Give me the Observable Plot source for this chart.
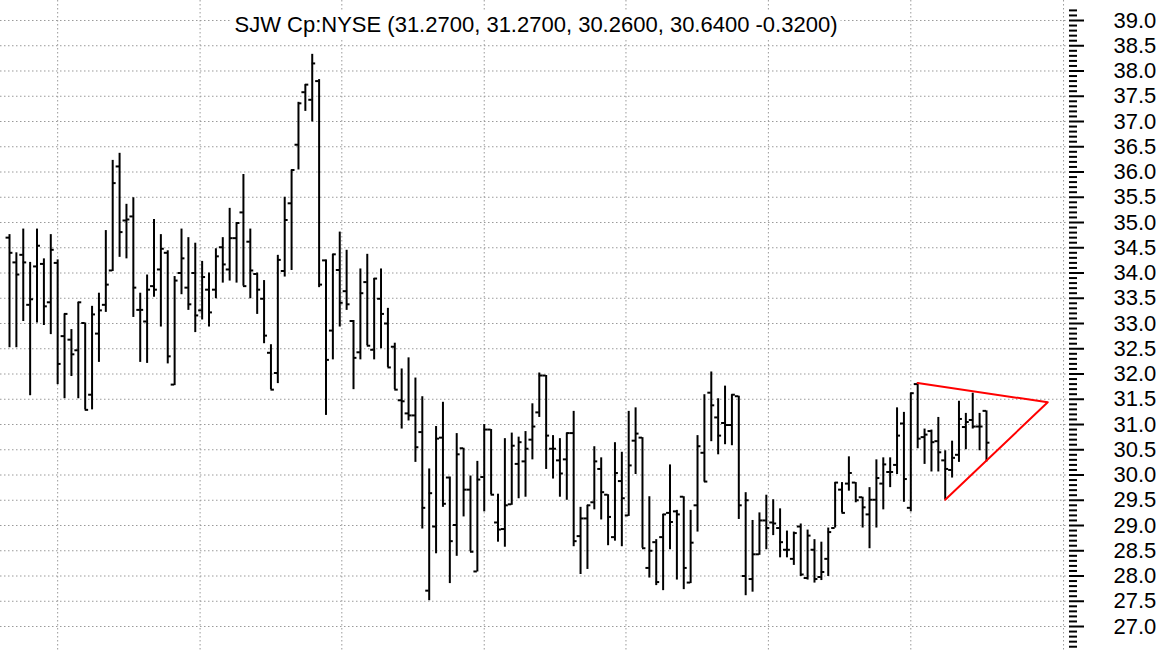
<!DOCTYPE html>
<html>
<head>
<meta charset="utf-8">
<script src="https://cdn.jsdelivr.net/npm/d3@7"></script>
<script src="https://cdn.jsdelivr.net/npm/@observablehq/plot@0.6"></script>
<style>
  html, body { margin: 0; padding: 0; background: #fff; }
  #wrap { position: relative; width: 1166px; height: 650px; overflow: hidden; }
  #title {
    position: absolute; top: 12px; left: 536px; transform: translateX(-50%);
    background: #fff; padding: 0 3px; white-space: nowrap;
    font: 22px "Liberation Sans", Arial, sans-serif; line-height: 26px; color: #000;
  }
</style>
</head>
<body>
<div id="wrap"><div id="title"></div></div>
<script>
const titleText = "SJW Cp:NYSE (31.2700, 31.2700, 30.2600, 30.6400 -0.3200)";

const opens = [34.70,34.21,34.36,33.37,34.13,34.18,33.42,34.20,32.75,32.68,32.47,33.01,31.59,32.80,33.37,34.05,36.11,35.04,35.12,33.27,
33.04,33.74,34.07,34.40,31.79,34.00,33.71,34.00,33.26,33.67,33.67,34.51,34.07,34.69,35.20,34.62,33.98,33.49,32.42,32.02,
34.04,35.38,36.54,37.58,37.43,37.80,34.25,32.86,34.06,33.64,33.05,32.43,33.82,32.48,33.49,33.00,32.54,31.48,31.22,31.18,
30.85,27.71,28.98,30.74,29.95,29.01,30.53,29.71,28.09,29.96,30.90,29.06,28.93,29.42,30.22,30.27,30.70,31.24,31.97,30.52,
30.29,30.31,30.83,28.79,29.14,29.46,30.12,29.61,28.77,29.88,29.20,30.68,30.74,28.16,28.67,28.77,29.25,29.28,29.57,27.87,
29.40,30.44,31.63,31.14,31.03,30.99,31.56,28.00,27.94,28.43,29.10,29.06,28.95,28.52,28.34,28.98,27.96,28.52,27.98,28.34,
28.95,29.71,29.83,29.85,29.56,29.22,29.51,29.83,30.06,30.20,31.02,29.35,31.80,30.75,30.87,30.67,30.29,30.10,30.40,30.95,
31.09,30.96,31.27];
const highs = [34.76,34.40,34.87,34.21,34.87,34.28,34.76,34.26,33.19,32.88,33.42,33.01,33.34,33.60,34.84,36.23,36.37,35.36,35.49,33.60,
33.96,35.06,34.76,34.44,33.93,34.87,34.70,34.59,34.23,34.00,34.48,34.70,35.28,35.00,35.95,34.87,34.00,33.85,32.58,34.35,
35.50,36.04,37.38,37.73,38.33,37.83,34.26,34.37,34.81,34.45,33.06,34.08,34.37,33.89,34.08,33.30,32.61,32.10,32.32,31.92,
31.55,30.12,30.96,31.44,29.96,30.82,30.53,29.98,30.27,31.00,30.90,29.62,30.72,30.83,30.75,30.86,31.41,32.02,31.97,30.78,
30.72,30.83,31.26,29.36,29.40,30.56,30.34,29.61,30.64,30.45,31.26,31.33,30.74,29.57,28.72,29.22,30.20,29.30,29.57,29.30,
30.78,31.59,32.04,31.51,31.76,31.59,31.56,29.65,29.10,29.25,29.60,29.51,29.33,28.89,28.87,29.03,28.91,28.72,28.67,28.95,
29.85,29.85,30.36,29.85,29.56,29.75,30.30,30.34,30.34,31.33,31.24,31.62,31.82,30.91,30.89,31.14,30.48,30.67,31.46,31.22,
31.62,31.22,31.27];
const lows = [32.52,32.52,33.04,31.57,33.01,32.96,32.78,31.79,31.51,31.95,31.51,31.29,31.29,32.23,33.22,34.03,34.31,34.28,33.12,32.23,
32.21,33.52,32.93,32.20,31.77,33.57,33.26,32.82,33.07,32.93,33.49,33.80,33.84,33.80,33.74,33.49,33.18,32.60,31.69,31.81,
33.92,34.05,36.04,37.20,36.99,33.71,31.18,32.28,32.93,33.26,31.69,32.28,32.56,32.28,32.50,32.13,31.69,30.91,31.07,30.25,
28.93,27.51,28.44,29.36,27.85,28.39,29.17,28.48,28.08,29.27,29.61,28.67,28.57,29.40,29.53,29.56,30.30,31.14,30.11,29.92,
29.56,29.50,28.58,28.03,28.13,29.31,29.11,28.60,28.69,28.58,29.18,30.01,28.55,27.96,27.81,27.71,28.52,27.92,27.73,27.85,
28.87,29.86,30.66,30.40,30.60,30.58,29.12,27.61,27.68,28.41,28.52,28.80,28.36,28.36,28.21,27.99,27.92,27.86,27.91,27.99,
28.95,29.25,29.68,29.45,28.95,28.54,28.95,29.31,29.75,30.01,29.46,29.27,30.52,30.21,30.06,30.06,29.51,29.94,30.25,30.50,
30.91,30.48,30.26];
const closes = [34.40,33.97,34.21,33.48,34.54,33.34,34.46,32.20,33.19,32.39,33.42,31.29,33.18,33.26,33.77,35.78,34.81,35.06,33.71,33.27,
33.67,33.67,34.48,32.35,33.85,34.29,33.38,33.16,33.92,33.22,34.33,34.17,34.69,34.99,33.74,34.05,33.67,32.76,31.69,34.26,
35.05,36.04,37.36,37.73,38.15,33.77,32.28,34.37,33.41,33.38,32.32,33.60,32.56,33.89,33.19,32.13,31.69,31.46,31.18,30.55,
29.35,29.64,30.72,29.43,28.69,30.41,29.71,28.48,29.91,30.90,29.61,28.92,29.40,30.58,30.65,30.52,30.96,31.97,30.78,30.52,
30.03,30.83,28.69,29.14,29.40,30.27,29.66,29.17,30.04,29.54,30.19,30.82,28.55,28.50,27.88,29.22,29.07,29.22,28.16,28.66,
30.57,29.87,31.38,30.78,30.99,31.59,29.40,29.50,28.43,29.10,28.95,29.04,28.67,28.52,28.85,28.03,28.80,27.94,28.08,28.87,
29.85,29.25,30.04,29.50,29.36,29.51,29.94,30.21,30.06,30.78,29.92,31.62,30.72,30.80,30.65,30.45,30.12,30.34,31.11,31.05,
30.96,30.96,30.64];

// triangle drawn over the last bars: [start of upper side, apex, start of lower side]
const trendIndex = [132, 150.9, 136];
const trendPrice = [31.82, 31.44, 29.51];

const majorTicks = d3.range(27, 39.001, 0.5);
const minorTicks = d3.range(26.6, 39.3, 0.1).map(v => Math.round(v * 10) / 10).filter(v => Math.round(v * 10) % 5 !== 0);
const gridPrice = majorTicks;
const gridIndex = [7, 27.7, 48.3, 69, 89.6, 110.3, 131, 153.2];

const bars = opens.map((o, i) => ({i, open: o, high: highs[i], low: lows[i], close: closes[i]}));
const trend = trendIndex.map((x, k) => ({x, y: trendPrice[k]}));

document.getElementById("title").textContent = titleText;

const chart = Plot.plot({
  width: 1166,
  height: 650,
  marginLeft: 0,
  marginRight: 98,
  marginTop: 0,
  marginBottom: 0,
  style: {fontFamily: "'Liberation Sans', Arial, sans-serif", background: "transparent", color: "#000"},
  x: {domain: [-1.308, 153.92], axis: null},
  y: {domain: [26.525, 39.396]},
  marks: [
    Plot.ruleY(gridPrice, {stroke: "#9a9a9a", strokeDasharray: "1.5,2.5", strokeWidth: 1}),
    Plot.ruleX(gridIndex, {stroke: "#9a9a9a", strokeDasharray: "1.5,2.5", strokeWidth: 1}),
    Plot.ruleX(bars, {x: "i", y1: "low", y2: "high", stroke: "#000", strokeWidth: 2}),
    Plot.ruleY(bars, {y: "open", x1: d => d.i - 0.5, x2: d => d.i, stroke: "#000", strokeWidth: 2}),
    Plot.ruleY(bars, {y: "close", x1: d => d.i, x2: d => d.i + 0.5, stroke: "#000", strokeWidth: 2}),
    Plot.line(trend, {x: "x", y: "y", stroke: "#ff0000", strokeWidth: 2}),
    Plot.axisY(minorTicks, {anchor: "right", tickSize: 8, tickFormat: () => "", label: null, strokeWidth: 2}),
    Plot.axisY(majorTicks, {anchor: "right", tickSize: 15, tickPadding: 30, tickFormat: d => d.toFixed(1),
      fontSize: 22, label: null, strokeWidth: 2})
  ]
});
document.getElementById("wrap").prepend(chart);
</script>
</body>
</html>
